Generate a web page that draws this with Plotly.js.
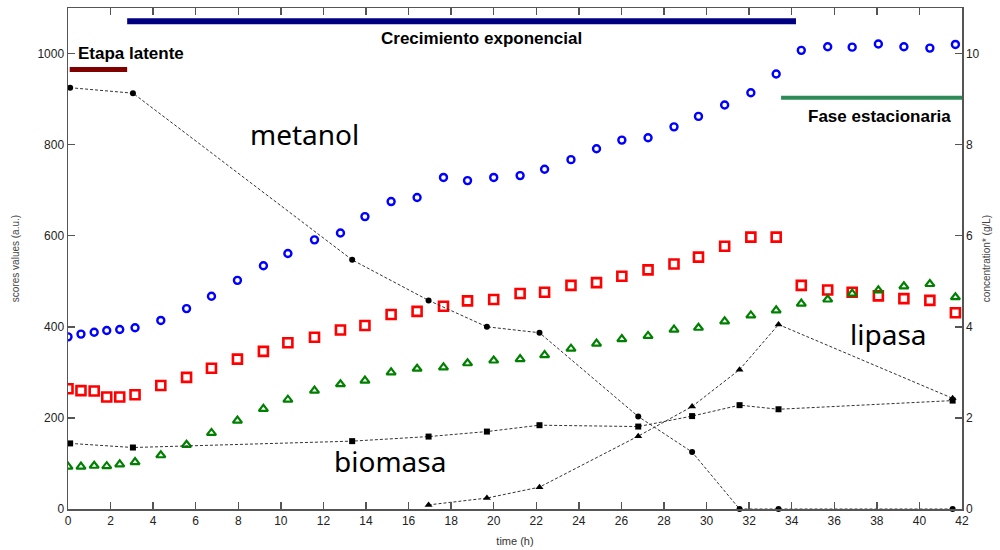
<!DOCTYPE html>
<html>
<head>
<meta charset="utf-8">
<script src="https://cdn.plot.ly/plotly-3.0.1.min.js"></script>
<style>
  html, body { margin: 0; padding: 0; background: #ffffff; }
  #chart { width: 1000px; height: 550px; }
</style>
</head>
<body>
<div id="chart"></div>
<script>
// Sampling times (h) for the score values
const tScores = [0, 0.61, 1.23, 1.82, 2.43, 3.15, 4.36, 5.57, 6.74, 7.96, 9.18, 10.33, 11.58, 12.8, 13.95,
  15.18, 16.4, 17.64, 18.77, 20.0, 21.24, 22.39, 23.63, 24.83, 26.02, 27.25, 28.47, 29.62, 30.85, 32.08,
  33.27, 34.45, 35.69, 36.84, 38.07, 39.27, 40.49, 41.69];

// Score values (a.u.)
const scoreBlue = [378, 384, 388, 392, 394, 398, 414, 440, 467, 502, 534, 561, 591, 606, 642,
  675, 684, 728, 721, 728, 732, 746, 767, 791, 810, 815, 839, 862, 887, 914,
  955, 1007, 1015, 1014, 1021, 1015, 1012, 1020];
const scoreRed = [264, 260, 259, 246, 246, 251, 271, 289, 309, 329, 346, 365, 377, 393, 403,
  427, 434, 445, 457, 460, 473, 476, 491, 497, 511, 525, 538, 553, 577, 597,
  597, 491, 481, 476, 468, 462, 458, 431];
const scoreGreen = [93, 93, 95, 94, 98, 103, 118, 141, 167, 194, 220, 240, 260, 274, 282,
  300, 308, 311, 320, 326, 329, 338, 352, 363, 373, 380, 394, 398, 412, 425,
  436, 451, 460, 473, 480, 489, 494, 465];

// Offline measurements, concentration (g/L)
const tConc = [0.1, 3.05, 13.35, 16.94, 19.68, 22.15, 26.79, 29.32, 31.55, 33.38, 41.56];
const metanol = [9.25, 9.13, 5.47, 4.58, 4.0, 3.87, 2.03, 1.25, 0, 0, 0];
const biomasa = [1.44, 1.35, 1.49, 1.59, 1.70, 1.84, 1.81, 2.04, 2.28, 2.19, 2.38];
const lipasa = [null, null, null, 0.09, 0.24, 0.48, 1.60, 2.25, 3.06, 4.05, 2.43];

// Tick labels
const xTicks = [0, 2, 4, 6, 8, 10, 12, 14, 16, 18, 20, 22, 24, 26, 28, 30, 32, 34, 36, 38, 40, 42];
const yTicksLeft = [0, 200, 400, 600, 800, 1000];
const yTicksRight = [0, 2, 4, 6, 8, 10];

const FONT = 'Liberation Sans, Arial, sans-serif';
const AXIS_COLOR = '#555555';
const LINE_DASH = '3px,2px';

const traces = [
  { x: tScores, y: scoreBlue, type: 'scatter', mode: 'markers', name: 'score 1',
    marker: { symbol: 'circle-open', size: 7, color: '#0000ff', line: { width: 2.4, color: '#0000ff' } } },
  { x: tScores, y: scoreRed, type: 'scatter', mode: 'markers', name: 'score 2',
    marker: { symbol: 'square-open', size: 9, color: '#ff0000', line: { width: 2.6, color: '#ff0000' } } },
  { x: tScores, y: scoreGreen, type: 'scatter', mode: 'markers', name: 'score 3',
    marker: { symbol: 'triangle-up-open', size: 8, color: '#008000', line: { width: 2.2, color: '#008000' } } },
  { x: tConc, y: metanol, type: 'scatter', mode: 'lines+markers', name: 'metanol', yaxis: 'y2',
    cliponaxis: false,
    line: { color: '#333333', width: 1, dash: LINE_DASH },
    marker: { symbol: 'circle', size: 6, color: '#000000' } },
  { x: tConc, y: biomasa, type: 'scatter', mode: 'lines+markers', name: 'biomasa', yaxis: 'y2',
    cliponaxis: false,
    line: { color: '#333333', width: 1, dash: LINE_DASH },
    marker: { symbol: 'square', size: 6, color: '#000000' } },
  { x: tConc, y: lipasa, type: 'scatter', mode: 'lines+markers', name: 'lipasa', yaxis: 'y2',
    cliponaxis: false, connectgaps: false,
    line: { color: '#333333', width: 1, dash: LINE_DASH },
    marker: { symbol: 'triangle-up', size: 7, color: '#000000' } }
];

const phaseLabelFont = { family: FONT, size: 17, color: '#000000', weight: 'bold' };
const curveLabelFont = { family: 'Noto Sans, DejaVu Sans, sans-serif', size: 28, color: '#000000' };

const layout = {
  width: 1000, height: 550,
  margin: { l: 68, r: 38, t: 8, b: 41 },
  paper_bgcolor: '#ffffff', plot_bgcolor: '#ffffff',
  showlegend: false,
  font: { family: FONT, size: 12, color: '#333333' },
  xaxis: {
    range: [0, 42], tickvals: xTicks, ticks: 'inside', ticklen: 7, tickwidth: 1.5, tickcolor: AXIS_COLOR,
    showline: true, linecolor: AXIS_COLOR, linewidth: 1.5, mirror: 'ticks',
    showgrid: false, zeroline: false, tickfont: { family: FONT, size: 12, color: '#222222' },
    title: { text: 'time (h)', font: { family: FONT, size: 11, color: '#333333' }, standoff: 10 }
  },
  yaxis: {
    range: [0, 1100], tickvals: yTicksLeft, ticks: 'inside', ticklen: 7, tickwidth: 1.5, tickcolor: AXIS_COLOR,
    showline: true, linecolor: AXIS_COLOR, linewidth: 1.5,
    showgrid: false, zeroline: false, tickfont: { family: FONT, size: 12, color: '#222222' },
    title: { text: 'scores values (a.u.)', font: { family: FONT, size: 10, color: '#444444' }, standoff: 16 }
  },
  yaxis2: {
    range: [0, 11], tickvals: yTicksRight, overlaying: 'y', side: 'right',
    ticks: 'inside', ticklen: 7, tickwidth: 1.5, tickcolor: AXIS_COLOR,
    showline: true, linecolor: AXIS_COLOR, linewidth: 1.5,
    showgrid: false, zeroline: false, tickfont: { family: FONT, size: 12, color: '#222222' },
    title: { text: 'concentration* (g/L)', font: { family: FONT, size: 10, color: '#444444' }, standoff: 4 }
  },
  shapes: [
    // growth phases
    { type: 'line', xref: 'x', yref: 'y', x0: 0.08, x1: 2.78, y0: 965, y1: 965,
      line: { color: '#800000', width: 5 } },
    { type: 'line', xref: 'x', yref: 'y', x0: 2.78, x1: 34.2, y0: 1071, y1: 1071,
      line: { color: '#000080', width: 6 } },
    { type: 'line', xref: 'x', yref: 'y', x0: 33.5, x1: 42, y0: 903, y1: 903,
      line: { color: '#2e8b57', width: 4 } }
  ],
  annotations: [
    { x: 2.98, y: 1000, xref: 'x', yref: 'y', text: 'Etapa latente', showarrow: false, font: phaseLabelFont },
    { x: 19.43, y: 1034, xref: 'x', yref: 'y', text: 'Crecimiento exponencial', showarrow: false, font: phaseLabelFont },
    { x: 38.14, y: 862, xref: 'x', yref: 'y', text: 'Fase estacionaria', showarrow: false, font: phaseLabelFont },
    { x: 11.12, y: 823, xref: 'x', yref: 'y', text: 'metanol', showarrow: false, font: curveLabelFont },
    { x: 15.13, y: 106, xref: 'x', yref: 'y', text: 'biomasa', showarrow: false, font: curveLabelFont },
    { x: 38.54, y: 384, xref: 'x', yref: 'y', text: 'lipasa', showarrow: false, font: curveLabelFont }
  ]
};

Plotly.newPlot('chart', traces, layout, { displayModeBar: false, staticPlot: true });
</script>
</body>
</html>
